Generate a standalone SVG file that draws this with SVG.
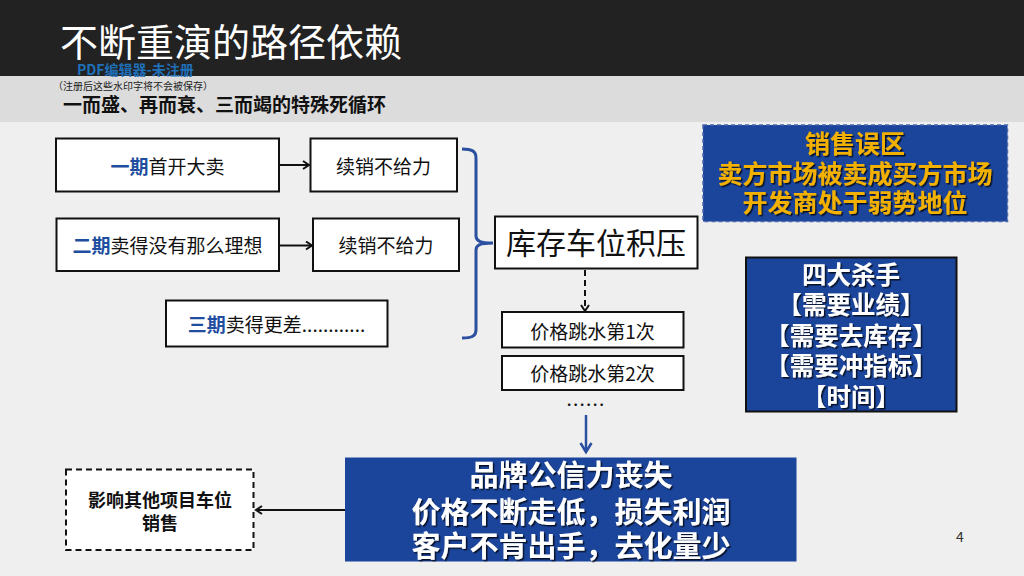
<svg xmlns="http://www.w3.org/2000/svg" width="1024" height="576" viewBox="0 0 1024 576">
<defs>
<style>
text{font-family:"Noto Sans CJK SC","Liberation Sans",sans-serif;}
.box{fill:#ffffff;stroke:#111111;stroke-width:2;}
.blue{fill:#1b449b;}
.t19{font-size:19px;fill:#111111;text-anchor:middle;}
.b{font-weight:700;fill:#1f4ea0;}
.gold{font-size:25px;font-weight:700;fill:#f2b000;text-anchor:middle;filter:url(#sh);}
.wh24{font-size:24.5px;font-weight:700;fill:#ffffff;text-anchor:middle;filter:url(#sh);font-feature-settings:"halt";}
.wh29{font-size:29px;font-weight:700;fill:#ffffff;text-anchor:middle;filter:url(#sh);}
.line{fill:none;stroke:#111111;stroke-width:2;}
</style>
<filter id="sh" x="-10%" y="-20%" width="120%" height="150%">
<feDropShadow dx="1.5" dy="1.5" stdDeviation="0.6" flood-color="#000000" flood-opacity="0.75"/>
</filter>
<marker id="ah" markerWidth="10" markerHeight="10" refX="8" refY="5" orient="auto" markerUnits="userSpaceOnUse">
<path d="M2,1 L8,5 L2,9" fill="none" stroke="#111111" stroke-width="2"/>
</marker>
<marker id="ahb" markerWidth="14" markerHeight="14" refX="11" refY="7" orient="auto" markerUnits="userSpaceOnUse">
<path d="M2,1.5 L11,7 L2,12.5" fill="none" stroke="#2b4f9f" stroke-width="2.5"/>
</marker>
</defs>

<rect x="0" y="0" width="1024" height="576" fill="#efefef"/>
<rect x="0" y="0" width="1024" height="76" fill="#222222"/>
<rect x="0" y="76" width="1024" height="46" fill="#dcdcdc"/>

<g id="header">
<text x="60" y="56" font-size="38" fill="#ffffff">不断重演的路径依赖</text>
<text x="77" y="75" font-size="14" font-weight="700" fill="#1f6fb8">PDF编辑器-未注册</text>
<text x="53" y="89.5" font-size="10" fill="#222222">（注册后这些水印字将不会被保存）</text>
<text x="63" y="112" font-size="19" font-weight="700" fill="#111111">一而盛、再而衰、三而竭的特殊死循环</text>
</g>

<g id="connectors">
<line class="line" x1="280" y1="165" x2="309" y2="165" marker-end="url(#ah)"/>
<line class="line" x1="280" y1="245.5" x2="312" y2="245.5" marker-end="url(#ah)"/>
<path d="M462,149 C472,149 476,151 476,158 L476,236 C476,241 480,243 493,243 C480,243 476,245 476,250 L476,330 C476,336 472,338 462,338" fill="none" stroke="#2c50a0" stroke-width="3"/>
<line class="line" x1="585" y1="270" x2="585" y2="311" stroke-dasharray="6 4" marker-end="url(#ah)"/>
<line x1="586" y1="415" x2="586" y2="452" stroke="#2b4f9f" stroke-width="2.5" marker-end="url(#ahb)"/>
<line class="line" x1="345" y1="510" x2="256" y2="510" marker-end="url(#ah)"/>
</g>

<g id="n1">
<rect class="box" x="56" y="138.5" width="223" height="53"/>
<text class="t19" x="167.5" y="173.5"><tspan class="b">一期</tspan>首开大卖</text>
</g>
<g id="n2">
<rect class="box" x="310.5" y="138.5" width="146.5" height="53"/>
<text class="t19" x="383.5" y="173.5">续销不给力</text>
</g>
<g id="n3">
<rect class="box" x="56.5" y="218.5" width="222.5" height="52.5"/>
<text class="t19" x="167.5" y="252.5"><tspan class="b">二期</tspan>卖得没有那么理想</text>
</g>
<g id="n4">
<rect class="box" x="313" y="218.5" width="146" height="52.5"/>
<text class="t19" x="386" y="252.5">续销不给力</text>
</g>
<g id="n5">
<rect class="box" x="166" y="300.5" width="221.5" height="46"/>
<text class="t19" x="276.5" y="332"><tspan class="b">三期</tspan>卖得更差............</text>
</g>
<g id="n6">
<rect class="box" x="495" y="216.5" width="202.5" height="52"/>
<text x="596" y="254" font-size="30" fill="#111111" text-anchor="middle">库存车位积压</text>
</g>
<g id="n7">
<rect class="box" x="502" y="312" width="181.5" height="35.5"/>
<text class="t19" x="592.5" y="338.5">价格跳水第1次</text>
</g>
<g id="n8">
<rect class="box" x="502" y="356" width="181.5" height="34"/>
<text class="t19" x="592.5" y="381">价格跳水第2次</text>
</g>
<g id="dots">
<text x="586" y="406" font-size="19" fill="#111111" text-anchor="middle" letter-spacing="1.2">......</text>
</g>
<g id="n9">
<rect class="blue" x="703" y="125" width="304.5" height="96.5" stroke="#4a66ad" stroke-width="1.5" stroke-dasharray="4 3"/>
<text class="gold" x="855" y="153">销售误区</text>
<text class="gold" x="855" y="183">卖方市场被卖成买方市场</text>
<text class="gold" x="855" y="212">开发商处于弱势地位</text>
</g>
<g id="n10">
<rect class="blue" x="746" y="257.5" width="210.5" height="154" stroke="#111111" stroke-width="2"/>
<text class="wh24" x="851" y="283.5">四大杀手</text>
<text class="wh24" x="851" y="313.5">【需要业绩】</text>
<text class="wh24" x="851" y="344.5">【需要去库存】</text>
<text class="wh24" x="851" y="374.5">【需要冲指标】</text>
<text class="wh24" x="851" y="405.5">【时间】</text>
</g>
<g id="n11">
<rect class="blue" x="345" y="457.5" width="451.5" height="104"/>
<text class="wh29" x="571" y="486">品牌公信力丧失</text>
<text class="wh29" x="571" y="523">价格不断走低，损失利润</text>
<text class="wh29" x="571" y="557">客户不肯出手，去化量少</text>
</g>
<g id="n12">
<rect x="66" y="469.5" width="187.5" height="80.5" fill="#ffffff" stroke="#111111" stroke-width="2" stroke-dasharray="6 4"/>
<text x="160" y="507" font-size="18" font-weight="700" fill="#111111" text-anchor="middle">影响其他项目车位</text>
<text x="160" y="530" font-size="18" font-weight="700" fill="#111111" text-anchor="middle">销售</text>
</g>
<g id="page">
<text x="960" y="542" font-size="14" fill="#333333" text-anchor="middle">4</text>
</g>
</svg>
